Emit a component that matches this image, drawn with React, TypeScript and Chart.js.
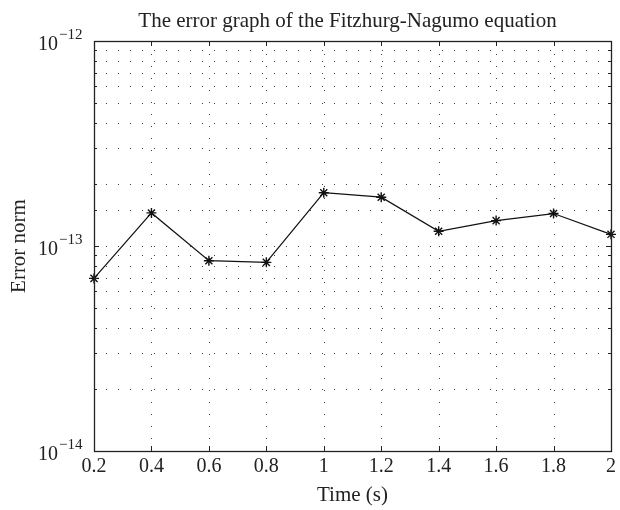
import React, { useEffect, useRef } from "react";
import { Chart, registerables } from "chart.js";

Chart.register(...registerables);

// ---- data ----
const times = [0.2, 0.4, 0.6, 0.8, 1.0, 1.2, 1.4, 1.6, 1.8, 2.0];
const errorNorm = [6.95e-14, 1.45e-13, 8.48e-14, 8.32e-14, 1.82e-13, 1.73e-13, 1.18e-13, 1.33e-13, 1.44e-13, 1.14e-13];
const xMin = 0.2;
const xMax = 2.0;
const xStep = 0.2;
const yMin = 1e-14;
const yMax = 1e-12;
const titleText = "The error graph of the Fitzhurg-Nagumo equation";
const xTitleText = "Time (s)";
const yTitleText = "Error norm";

const FONT = '"Liberation Serif", "DejaVu Serif", serif';
const INK = "#222";

const matlabPlugin = {
  id: "matlabDecor",
  beforeDatasetsDraw(chart: any) {
    const { ctx, chartArea: a, scales } = chart;
    const xs = scales.x;
    const ys = scales.y;
    ctx.save();
    ctx.strokeStyle = "#444";
    ctx.lineWidth = 1;
    ctx.setLineDash([1, 11]);
    xs.ticks.forEach((t: any) => {
      const px = Math.round(xs.getPixelForValue(t.value)) + 0.5;
      if (px <= a.left + 1 || px >= a.right - 1) return;
      ctx.beginPath();
      ctx.moveTo(px, a.bottom);
      ctx.lineTo(px, a.top);
      ctx.stroke();
    });
    ys.ticks.forEach((t: any) => {
      const py = Math.round(ys.getPixelForValue(t.value)) + 0.5;
      if (py <= a.top + 1 || py >= a.bottom - 1) return;
      ctx.beginPath();
      ctx.moveTo(a.left, py);
      ctx.lineTo(a.right, py);
      ctx.stroke();
    });
    ctx.restore();
  },
  afterDraw(chart: any) {
    const { ctx, chartArea: a, scales } = chart;
    const xs = scales.x;
    const ys = scales.y;
    ctx.save();
    ctx.setLineDash([]);
    ctx.strokeStyle = INK;
    ctx.lineWidth = 1;
    xs.ticks.forEach((t: any) => {
      const px = Math.round(xs.getPixelForValue(t.value)) + 0.5;
      ctx.beginPath();
      ctx.moveTo(px, a.bottom);
      ctx.lineTo(px, a.bottom - 5);
      ctx.moveTo(px, a.top);
      ctx.lineTo(px, a.top + 5);
      ctx.stroke();
    });
    ys.ticks.forEach((t: any) => {
      const py = Math.round(ys.getPixelForValue(t.value)) + 0.5;
      const mant = t.value / Math.pow(10, Math.floor(Math.log10(t.value) + 1e-9));
      const len = Math.abs(mant - 1) < 1e-6 ? 5 : 3;
      ctx.beginPath();
      ctx.moveTo(a.left, py);
      ctx.lineTo(a.left + len, py);
      ctx.moveTo(a.right, py);
      ctx.lineTo(a.right - len, py);
      ctx.stroke();
    });
    ctx.lineWidth = 1.3;
    ctx.strokeRect(Math.round(a.left) + 0.5, Math.round(a.top) + 0.5, Math.round(a.right - a.left), Math.round(a.bottom - a.top));

    ctx.fillStyle = INK;
    ys.ticks.forEach((t: any) => {
      const e = Math.round(Math.log10(t.value));
      if (Math.abs(t.value / Math.pow(10, e) - 1) > 1e-6) return;
      const py = ys.getPixelForValue(t.value);
      ctx.font = `20px ${FONT}`;
      ctx.textAlign = "right";
      ctx.textBaseline = "alphabetic";
      ctx.fillText("10", 58, py + 9);
      ctx.font = `15px ${FONT}`;
      ctx.textAlign = "left";
      ctx.fillText("\u2212" + String(Math.abs(e)), 59, py - 2);
    });

    ctx.font = `21px ${FONT}`;
    ctx.textAlign = "center";
    ctx.textBaseline = "middle";
    ctx.fillText(titleText, (a.left + a.right) / 2 - 5, 21);
    ctx.restore();
  },
};

export default function App() {
  const ref = useRef<HTMLCanvasElement | null>(null);
  useEffect(() => {
    document.body.style.margin = "0";
    const canvas = ref.current;
    if (!canvas) return;
    const chart = new Chart(canvas, {
      type: "line",
      data: {
        datasets: [
          {
            data: times.map((t, i) => ({ x: t, y: errorNorm[i] })),
            borderColor: "#111",
            borderWidth: 1.2,
            pointStyle: "star",
            pointRadius: 5,
            pointBorderWidth: 1.4,
            pointBorderColor: "#111",
            pointBackgroundColor: "#111",
            tension: 0,
            clip: false,
          } as any,
        ],
      },
      options: {
        animation: false,
        responsive: false,
        maintainAspectRatio: false,
        layout: { padding: { top: 41, right: 5, left: 0, bottom: 0 } },
        plugins: { legend: { display: false }, tooltip: { enabled: false }, title: { display: false } },
        scales: {
          x: {
            type: "linear",
            min: xMin,
            max: xMax,
            grid: { display: false, drawTicks: false },
            border: { display: false },
            ticks: {
              stepSize: xStep,
              color: INK,
              font: { family: FONT, size: 20 },
              padding: 4,
              maxRotation: 0,
              autoSkip: false,
              callback: (v: any) => String(Math.round(Number(v) * 10) / 10),
            },
            title: {
              display: true,
              text: xTitleText,
              color: INK,
              font: { family: FONT, size: 21 },
              padding: { top: 0, bottom: 2 },
            },
            afterFit: (s: any) => {
              s.height = 59;
            },
          },
          y: {
            type: "logarithmic",
            min: yMin,
            max: yMax,
            grid: { display: false, drawTicks: false },
            border: { display: false },
            ticks: { display: false },
            title: {
              display: true,
              text: yTitleText,
              color: INK,
              font: { family: FONT, size: 21 },
              padding: { top: 7, bottom: 0 },
            },
            afterFit: (s: any) => {
              s.width = 94;
            },
          },
        },
      },
      plugins: [matlabPlugin],
    });
    return () => chart.destroy();
  }, []);
  return (
    <div style={{ width: 620, height: 510, background: "#fff" }}>
      <canvas ref={ref} width={620} height={510} />
    </div>
  );
}
